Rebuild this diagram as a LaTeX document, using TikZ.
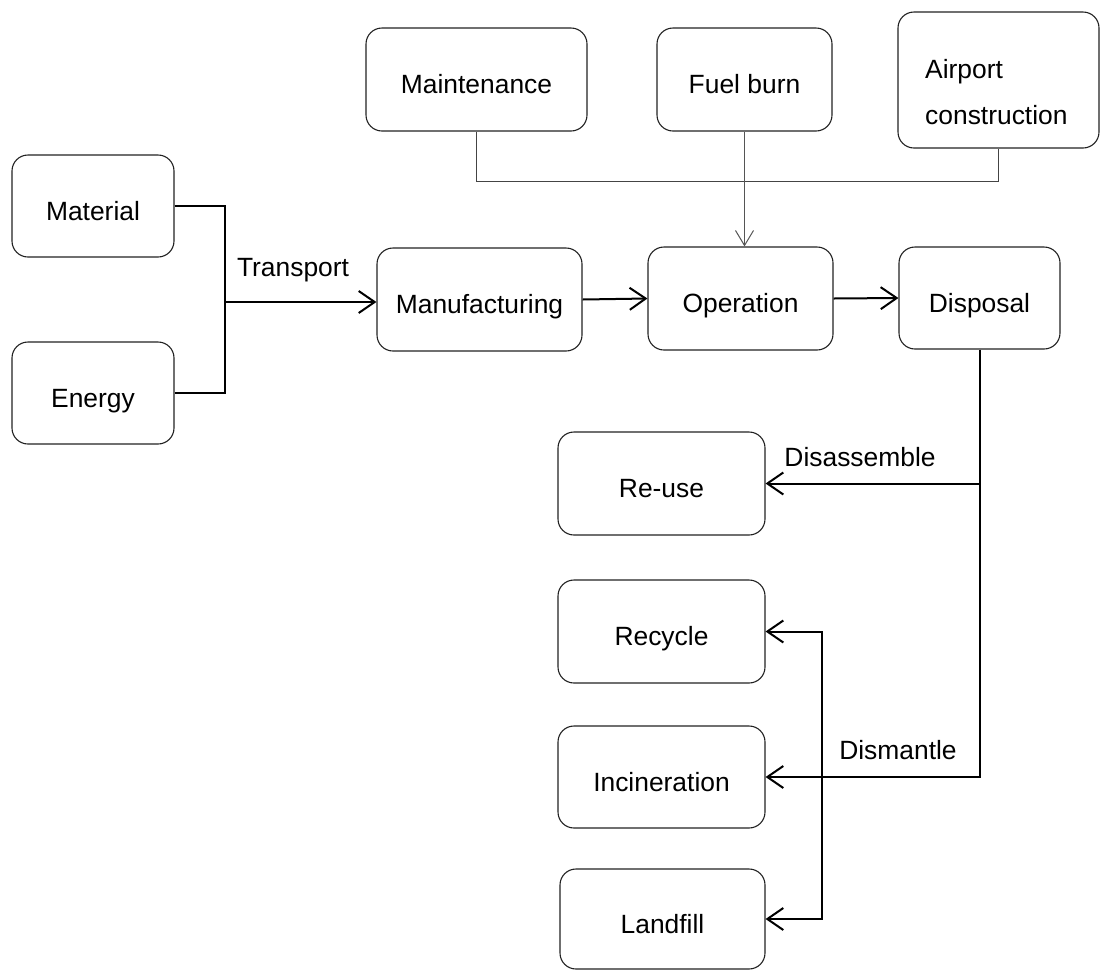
\documentclass[tikz,border=0pt]{standalone}
\usepackage{fontspec}
\setmainfont{Liberation Sans}
\usetikzlibrary{arrows.meta}
\definecolor{boxline}{HTML}{222222}
\definecolor{thinline}{HTML}{555555}
\tikzset{
  box/.style={draw=boxline, line width=1.1pt, rounded corners=16pt, fill=white,
    inner sep=0pt, text height=34pt, text depth=6pt,
    font=\fontsize{26.4}{46}\selectfont},
  lbl/.style={inner sep=0pt, font=\fontsize{26.4}{32}\selectfont},
  conn/.style={draw=black, line width=2pt},
  flow/.style={conn, -{Straight Barb[length=16pt,width=22pt,line width=2pt]}},
  flowboth/.style={conn, {Straight Barb[length=16pt,width=22pt,line width=2pt]}-{Straight Barb[length=16pt,width=22pt,line width=2pt]}},
  thinflow/.style={draw=thinline, line width=1pt, -{Straight Barb[length=15pt,width=18pt,line width=1pt]}},
  thinconn/.style={draw=thinline!80!black, line width=1.4pt}
}
\begin{document}
\begin{tikzpicture}[x=1pt,y=-1pt]
\useasboundingbox (0,0) rectangle (1100,970);
% top row
\node[box, minimum width=221pt, minimum height=103pt] (maint) at (476.5,79.5) {Maintenance};
\node[box, minimum width=175pt, minimum height=103pt] (fuel) at (744.5,79.5) {Fuel burn};
\node[box, minimum width=201pt, minimum height=136pt] (airport) at (998.5,80) {};
\node[lbl, align=left, anchor=west, font=\fontsize{26.4}{46}\selectfont] (airtxt) at (925,92) {Airport\\construction};
% left inputs
\node[box, minimum width=162pt, minimum height=102pt] (mat) at (93,206) {Material};
\node[box, minimum width=162pt, minimum height=102pt] (energy) at (93,393) {Energy};
% main row
\node[box, minimum width=205pt, minimum height=103pt] (manu) at (479.5,299.5) {Manufacturing};
\node[box, minimum width=185pt, minimum height=103pt] (oper) at (740.5,298.5) {Operation};
\node[box, minimum width=161pt, minimum height=102pt] (disp) at (979.5,298) {Disposal};
% end of life
\node[box, minimum width=207pt, minimum height=103pt] (reuse) at (661.5,483.5) {Re-use};
\node[box, minimum width=207pt, minimum height=103pt] (recycle) at (661.5,631.5) {Recycle};
\node[box, minimum width=207pt, minimum height=102pt] (incin) at (661.5,777) {Incineration};
\node[box, minimum width=205pt, minimum height=100pt] (landfill) at (662.5,919) {Landfill};
% top connectors
\draw[thinconn] (maint.south) -- ++(0,50) -| (airport.south);
\draw[thinflow] (fuel.south) -- (fuel.south |- oper.north);
% inputs
\draw[conn] (mat.east) -- ++(50,0) |- (energy.east);
\coordinate (tj) at (224,302);
\draw[flow] (tj) -- (tj -| manu.west);
\node[lbl] (transport) at (293,270) {Transport};
% main flow
\draw[flow] (manu.east) -- (oper.west);
\draw[flow] (oper.east) -- (disp.west);
% disposal
\draw[flow] (disp.south) |- (incin.east);
\draw[flow] (disp.south |- reuse.east) -- (reuse.east);
\node[lbl] (disassemble) at (860,457) {Disassemble};
\node[lbl] (dismantle) at (898,750) {Dismantle};
\draw[flowboth] (recycle.east) -- ++(56,0) |- (landfill.east);
\end{tikzpicture}
\end{document}
